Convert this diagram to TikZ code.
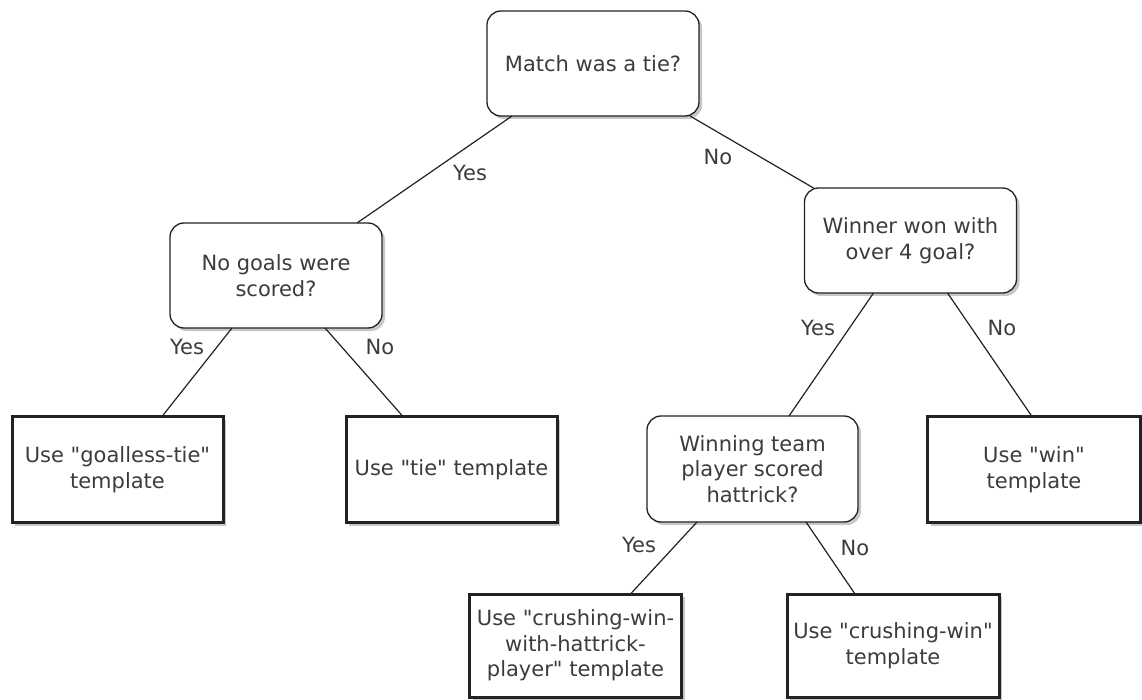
\documentclass[tikz,border=0pt]{standalone}
\usepackage{fontspec}
\setmainfont{DejaVu Sans}[Ligatures=TeXOff]
\usetikzlibrary{calc,shadows}
\definecolor{txt}{HTML}{3C3C3C}
\definecolor{ln}{HTML}{222222}
\begin{document}
\begin{tikzpicture}[x=1pt,y=-1pt,
  every node/.style={font=\fontsize{21}{25.5}\selectfont, text=txt},
  qbox/.style={draw=ln, line width=1.3pt, rounded corners=14pt, fill=white,
    minimum width=212pt, minimum height=105pt, align=center, inner sep=0pt, outer sep=0pt,
    drop shadow={shadow xshift=3pt, shadow yshift=-3pt, fill=black, opacity=0.22}},
  leaf/.style={draw=ln, line width=3pt, fill=white,
    minimum width=211pt, minimum height=106pt, align=center, inner sep=0pt, outer sep=0pt,
    drop shadow={shadow xshift=3pt, shadow yshift=-3pt, fill=black, opacity=0.22}},
  conn/.style={draw=ln, line width=1.2pt},
  lbl/.style={inner sep=0pt}
]
\useasboundingbox[fill=white] (0,0) rectangle (1142,700);

% decision nodes
\node[qbox] (root) at (593,63.5) {Match was a tie?};
\node[qbox] (lq) at (276,275.5) {No goals were\\scored?};
\node[qbox] (rq) at (910.5,240.5) {Winner won with\\over 4 goal?};
\node[qbox, minimum width=211pt, minimum height=106pt] (hq) at (752.5,469) {Winning team\\player scored\\hattrick?};

% leaves
\node[leaf] (gt) at (117.5,469.5) {Use "goalless-tie"\\template};
\node[leaf] (tie) at (451.5,469.5) {Use "tie" template};
\node[leaf, minimum width=213pt] (win) at (1034,469.5) {Use "win"\\template};
\node[leaf, minimum width=212pt, minimum height=103pt] (cwh) at (575.5,645.5) {Use "crushing-win-\\with-hattrick-\\player" template};
\node[leaf, minimum width=212pt, minimum height=103pt] (cw) at (893,645.5) {Use "crushing-win"\\template};

% connectors
\draw[conn] ($(root.south west)+(25,0)$) -- ($(lq.north east)+(-25,0)$);
\draw[conn] ($(root.south east)+(-9,0)$) -- ($(rq.north west)+(9,0)$);
\draw[conn] ($(lq.south west)+(62,0)$) -- ($(gt.north west)+(150,0)$);
\draw[conn] ($(lq.south east)+(-57,0)$) -- ($(tie.north west)+(57,0)$);
\draw[conn] ($(rq.south west)+(69,0)$) -- ($(hq.north west)+(142,0)$);
\draw[conn] ($(rq.south east)+(-69,0)$) -- ($(win.north)+(-2,0)$);
\draw[conn] ($(hq.south west)+(50,0)$) -- ($(cwh.north east)+(-51,0)$);
\draw[conn] ($(hq.south east)+(-52,0)$) -- ($(cw.north west)+(68,0)$);

% labels
\node[lbl] (l1) at (470,173) {Yes};
\node[lbl] (l2) at (718,157) {No};
\node[lbl] (l3) at (187,347) {Yes};
\node[lbl] (l4) at (380,347) {No};
\node[lbl] (l5) at (818,328) {Yes};
\node[lbl] (l6) at (1002,328) {No};
\node[lbl] (l7) at (639,545) {Yes};
\node[lbl] (l8) at (855,548) {No};
\end{tikzpicture}
\end{document}
